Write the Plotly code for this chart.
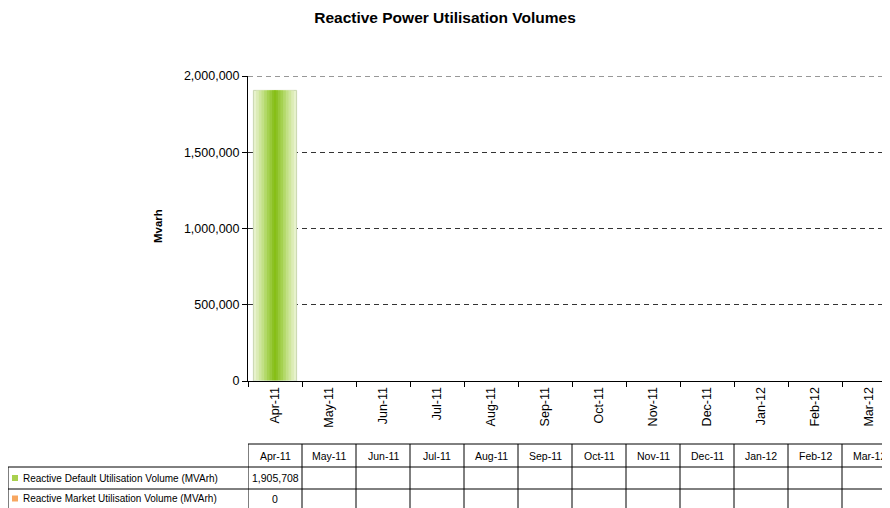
import plotly.graph_objects as go

months = ["Apr-11", "May-11", "Jun-11", "Jul-11", "Aug-11", "Sep-11",
          "Oct-11", "Nov-11", "Dec-11", "Jan-12", "Feb-12", "Mar-12"]
default_vol = [1905708, None, None, None, None, None, None, None, None, None, None, None]
market_vol = [0, None, None, None, None, None, None, None, None, None, None, None]
series_names = ["Reactive Default Utilisation Volume (MVArh)",
                "Reactive Market Utilisation Volume (MVArh)"]
y_ticks = [0, 500000, 1000000, 1500000, 2000000]

# page body has an 8px margin: figure pixel = screen pixel - 8
OFF = 8
W, H = 890, 508
ML, MT = 248 - OFF, 76 - OFF
MR = W - (896 - OFF)
MB = H - (381 - OFF)
PLOT_H = H - MT - MB
PLOT_W = W - ML - MR

def py(p):  # screen pixel y -> paper y
    return (381 - p) / PLOT_H

def px(p):  # screen pixel x -> paper x
    return (p - 248) / PLOT_W

FONT = "Liberation Sans, Arial, sans-serif"
fig = go.Figure()

# Gradient-like bar made from overlaid bars of decreasing width
grad = [(0.80, "#e7f2cc", "#c9d6b0"), (0.70, "#dcecb6", None), (0.60, "#cfe69d", None),
        (0.50, "#c2e085", None), (0.40, "#b3d96a", None), (0.30, "#a5d150", None),
        (0.20, "#98c93a", None), (0.11, "#8dc226", None), (0.04, "#87bf16", None)]
for w, c, lc in grad:
    fig.add_trace(go.Bar(x=months, y=default_vol, width=w, marker_color=c,
                         marker_line=dict(color=lc or c, width=1 if lc else 0),
                         showlegend=False, hoverinfo="skip" if lc is None else None,
                         name=series_names[0]))
fig.add_trace(go.Bar(x=months, y=market_vol, width=0.8, marker_color="#f7a35c",
                     showlegend=False, name=series_names[1]))

shapes = []
annotations = []

# top gridline (hidden by plotly at the range edge)
shapes.append(dict(type="line", xref="paper", yref="y", x0=0, x1=1, y0=y_ticks[-1], y1=y_ticks[-1],
                   line=dict(color="#333333", width=1, dash="5px,4px"), layer="below"))

# Table geometry (screen pixels)
hdr_top, row1_top, row2_top, tbl_bot = 444, 467, 489, 509
label_left = 8
black = dict(color="black", width=1)

for k in range(len(months) + 1):
    shapes.append(dict(type="line", xref="x", yref="paper", x0=k - 0.5, x1=k - 0.5,
                       y0=py(hdr_top), y1=py(tbl_bot), line=black, layer="above"))
shapes.append(dict(type="line", xref="paper", yref="paper", x0=0, x1=1,
                   y0=py(hdr_top), y1=py(hdr_top), line=black))
for yy in [row1_top, row2_top]:
    shapes.append(dict(type="line", xref="paper", yref="paper", x0=px(label_left), x1=1,
                       y0=py(yy), y1=py(yy), line=black))
shapes.append(dict(type="line", xref="paper", yref="paper", x0=px(label_left), x1=px(label_left),
                   y0=py(row1_top), y1=py(tbl_bot), line=black))

TF = dict(family=FONT, size=10.5, color="black")
for i, m in enumerate(months):
    annotations.append(dict(x=i, y=py((hdr_top + row1_top) / 2), xref="x", yref="paper",
                            text=m, showarrow=False, font=TF,
                            xanchor="center", yanchor="middle"))

def fmt(v):
    return "" if v is None else f"{v:,}"

rows = [(default_vol, row1_top, row2_top, "#a9d04e"), (market_vol, row2_top, 508, "#f7a660")]
for (vals, t, b, col), name in zip(rows, series_names):
    ym = py((t + b) / 2)
    for i, v in enumerate(vals):
        if v is not None:
            annotations.append(dict(x=i, y=ym, xref="x", yref="paper", text=fmt(v), showarrow=False,
                                    font=TF, xanchor="center", yanchor="middle"))
    shapes.append(dict(type="rect", xref="paper", yref="paper", x0=px(12), x1=px(18),
                       y0=py((t + b) / 2 - 3), y1=py((t + b) / 2 + 3),
                       fillcolor=col, line=dict(width=0)))
    annotations.append(dict(x=px(21), y=ym, xref="paper", yref="paper", text=name, showarrow=False,
                            font=dict(family=FONT, size=10, color="black"),
                            xanchor="left", yanchor="middle"))

annotations.append(dict(x=px(158), y=py(226), xref="paper", yref="paper", text="<b>Mvarh</b>",
                        textangle=-90, showarrow=False, font=dict(family=FONT, size=11.5, color="black"),
                        xanchor="center", yanchor="middle"))

fig.update_layout(
    width=W, height=H,
    margin=dict(l=ML, r=MR, t=MT, b=MB, pad=0),
    paper_bgcolor="white", plot_bgcolor="white",
    barmode="overlay",
    title=dict(text="<b>Reactive Power Utilisation Volumes</b>", x=(445 - OFF) / W, xanchor="center",
               y=1 - (18 - OFF) / H, yanchor="middle",
               font=dict(family=FONT, size=15.5, color="black")),
    font=dict(family=FONT, size=12.5, color="black"),
    shapes=shapes, annotations=annotations,
    showlegend=False,
)
fig.update_xaxes(range=[-0.5, len(months) - 0.5], type="category", tickangle=-90, tickson="boundaries",
                 ticks="outside", ticklen=5, tickcolor="black", showline=True, linecolor="black",
                 showgrid=False, tickfont=dict(family=FONT, size=12.5, color="black"))
fig.update_yaxes(range=[0, y_ticks[-1]], tickvals=y_ticks, tickformat=",", ticks="outside",
                 ticklen=5, tickcolor="black", showline=True, linecolor="black",
                 showgrid=True, gridcolor="#333333", griddash="5px,4px", gridwidth=1,
                 zeroline=False, tickfont=dict(family=FONT, size=12.5, color="black"))

fig.write_html("out.html")
